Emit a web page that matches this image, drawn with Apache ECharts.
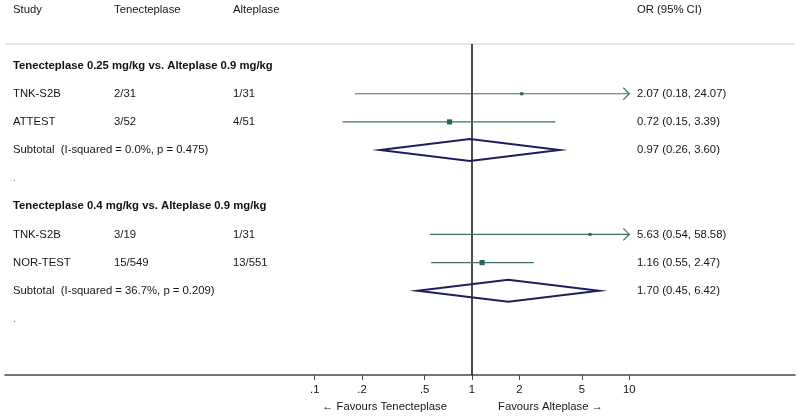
<!DOCTYPE html>
<html><head><meta charset="utf-8">
<script src="https://cdn.jsdelivr.net/npm/echarts@6/dist/echarts.min.js"></script>
<style>html,body{margin:0;padding:0;background:#fff}#c{width:800px;height:419px}</style>
</head><body><div id="c"></div>
<script>
// ---------- data ----------
const headers = ['Study', 'Tenecteplase', 'Alteplase', 'OR (95% CI)'];
const rowLabels = [
  'Tenecteplase 0.25 mg/kg vs. Alteplase 0.9 mg/kg',
  'TNK-S2B', 'ATTEST',
  'Subtotal  (I-squared = 0.0%, p = 0.475)',
  '.',
  'Tenecteplase 0.4 mg/kg vs. Alteplase 0.9 mg/kg',
  'TNK-S2B', 'NOR-TEST',
  'Subtotal  (I-squared = 36.7%, p = 0.209)',
  '.'
];
const rowKinds = ['group','study','study','subtotal','blank','group','study','study','subtotal','blank'];
const tnkEvents = ['', '2/31', '3/52', '', '', '', '3/19', '15/549', '', ''];
const altEvents = ['', '1/31', '4/51', '', '', '', '1/31', '13/551', '', ''];
const orText = ['', '2.07 (0.18, 24.07)', '0.72 (0.15, 3.39)', '0.97 (0.26, 3.60)', '',
                '', '5.63 (0.54, 58.58)', '1.16 (0.55, 2.47)', '1.70 (0.45, 6.42)', ''];

const studyRows   = [1, 2, 6, 7];
const studyOR     = [2.07, 0.72, 5.63, 1.16];
const studyLo     = [0.18, 0.15, 0.54, 0.55];
const studyHi     = [24.07, 3.39, 58.58, 2.47];
const studyWeight = [26.5, 73.5, 25, 75];

const subtotalRows = [3, 8];
const subtotalOR   = [0.97, 1.70];
const subtotalLo   = [0.26, 0.45];
const subtotalHi   = [3.60, 6.42];

const refValue   = 1;
const tickValues = [0.1, 0.2, 0.5, 1, 2, 5, 10];
const tickLabels = ['.1', '.2', '.5', '1', '2', '5', '10'];
const favoursLeft  = '\u2190 Favours Tenecteplase';
const favoursRight = 'Favours Alteplase \u2192';

// ---------- styling / layout ----------
const FONT = '"Liberation Sans", Arial, sans-serif';
const FS = 11.3;
const lg = Math.log10;
const clipLo = 0.1, clipHi = 10;
const yMin = -0.768, yMax = 10.995;
const colX = [13, 114, 233, 637];
const ciColor = '#3f706c', ptColor = '#2c625d', diaColor = '#1e1e5c';

const chart = echarts.init(document.getElementById('c'), null, {renderer: 'canvas'});

function txt(x, y, text, opt) {
  return {type: 'text', x: x, y: y, silent: true,
    style: Object.assign({text: text, font: FS + 'px ' + FONT, fill: '#161616',
      verticalAlign: 'middle', align: 'left'}, opt || {})};
}

const tableData = rowLabels.map((_, i) => [0, i]);
const ciData = studyRows.map((r, i) => [lg(studyOR[i]), r, lg(studyLo[i]), lg(studyHi[i]), studyWeight[i]]);
const diaData = subtotalRows.map((r, i) => [lg(subtotalOR[i]), r, lg(subtotalLo[i]), lg(subtotalHi[i])]);

const option = {
  backgroundColor: '#ffffff',
  animation: false,
  grid: {left: 5, right: 5, top: 44, bottom: 44, containLabel: false},
  xAxis: {
    type: 'value', min: -2.9689, max: 2.0534,
    axisLine: {show: true, onZero: false, lineStyle: {color: '#4a4a4a', width: 1.6}},
    splitLine: {show: false},
    axisTick: {show: true, customValues: tickValues.map(lg), length: 5, lineStyle: {color: '#4a4a4a', width: 1}},
    axisLabel: {show: true, customValues: tickValues.map(lg), margin: 9,
      fontFamily: FONT, fontSize: FS, color: '#161616',
      formatter: v => {
        const k = tickValues.findIndex(t => Math.abs(lg(t) - v) < 1e-6);
        return k >= 0 ? tickLabels[k] : '';
      }}
  },
  yAxis: {type: 'value', inverse: true, min: yMin, max: yMax, show: false},
  series: [
    { // reference vertical line at OR = 1
      type: 'custom', silent: true, data: [[lg(refValue)]], z: 2,
      renderItem: (params, api) => {
        const a = api.coord([api.value(0), yMin]), b = api.coord([api.value(0), yMax]);
        return {type: 'line', shape: {x1: a[0], y1: a[1], x2: b[0], y2: b[1]},
          style: {stroke: '#111', lineWidth: 1.5}};
      }
    },
    { // study CIs and point estimates
      type: 'custom', silent: true, data: ciData, z: 3,
      renderItem: (params, api) => {
        const y = api.coord([0, api.value(1)])[1];
        const lo = Math.max(api.value(2), lg(clipLo)), hi = Math.min(api.value(3), lg(clipHi));
        const p0 = api.coord([lo, api.value(1)]), p1 = api.coord([hi, api.value(1)]);
        const pc = api.coord([api.value(0), api.value(1)]);
        const s = 0.6 * Math.sqrt(api.value(4));
        const children = [
          {type: 'line', shape: {x1: p0[0], y1: y, x2: p1[0], y2: y}, style: {stroke: ciColor, lineWidth: 1.2}},
          {type: 'rect', shape: {x: pc[0] - s / 2, y: y - s / 2, width: s, height: s}, style: {fill: ptColor}}
        ];
        if (api.value(3) > lg(clipHi)) {
          children.push({type: 'polyline', shape: {points: [[p1[0] - 6, y - 6], [p1[0], y], [p1[0] - 6, y + 6]]},
            style: {stroke: ciColor, lineWidth: 1.2, fill: null}});
        }
        if (api.value(2) < lg(clipLo)) {
          children.push({type: 'polyline', shape: {points: [[p0[0] + 6, y - 6], [p0[0], y], [p0[0] + 6, y + 6]]},
            style: {stroke: ciColor, lineWidth: 1.2, fill: null}});
        }
        return {type: 'group', children: children};
      }
    },
    { // subtotal diamonds
      type: 'custom', silent: true, data: diaData, z: 4,
      renderItem: (params, api) => {
        const y = api.coord([0, api.value(1)])[1];
        const xc = api.coord([api.value(0), 0])[0];
        const xl = api.coord([api.value(2), 0])[0];
        const xr = api.coord([api.value(3), 0])[0];
        const h = 11;
        return {type: 'polygon', shape: {points: [[xl, y], [xc, y - h], [xr, y], [xc, y + h]]},
          style: {stroke: diaColor, lineWidth: 2, fill: null}};
      }
    },
    { // table text
      type: 'custom', silent: true, data: tableData, z: 5,
      renderItem: (params, api) => {
        const i = api.value(1);
        const y = api.coord([0, i])[1];
        const kind = rowKinds[i];
        const ch = [];
        if (kind === 'group') {
          ch.push(txt(colX[0], y, rowLabels[i], {font: 'bold ' + FS + 'px ' + FONT, fill: '#111'}));
        } else if (kind === 'blank') {
          ch.push(txt(colX[0], y, rowLabels[i], {fill: '#888'}));
        } else {
          ch.push(txt(colX[0], y, rowLabels[i]));
        }
        if (tnkEvents[i]) ch.push(txt(colX[1], y, tnkEvents[i]));
        if (altEvents[i]) ch.push(txt(colX[2], y, altEvents[i]));
        if (orText[i]) ch.push(txt(colX[3], y, orText[i]));
        return {type: 'group', children: ch};
      }
    }
  ]
};
chart.setOption(option);

const x1 = chart.convertToPixel({gridIndex: 0}, [lg(refValue), 0])[0];
chart.setOption({
  graphic: [
    {type: 'line', silent: true, shape: {x1: 5, y1: 44, x2: 795, y2: 44}, style: {stroke: '#cfcfcf', lineWidth: 1.2}},
    txt(colX[0], 10, headers[0]),
    txt(colX[1], 10, headers[1]),
    txt(colX[2], 10, headers[2]),
    txt(colX[3], 10, headers[3]),
    txt(x1 - 25, 407, favoursLeft, {align: 'right'}),
    txt(x1 + 26, 407, favoursRight, {align: 'left'})
  ]
});
</script>
</body></html>
